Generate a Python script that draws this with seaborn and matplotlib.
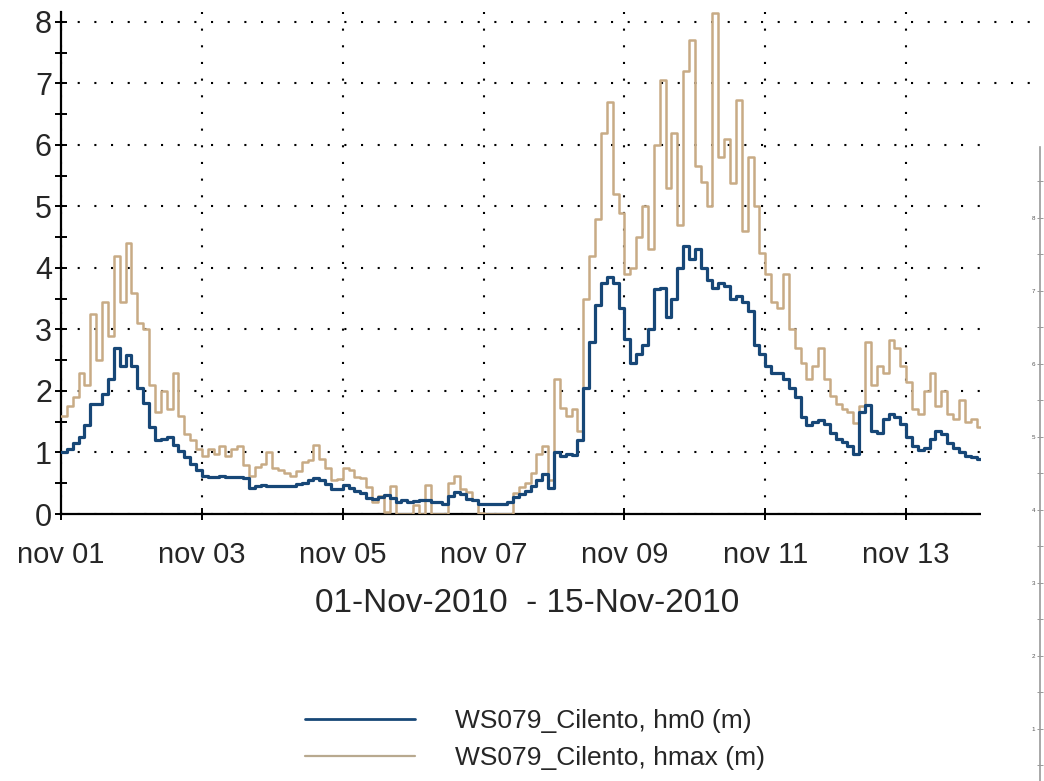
import matplotlib
matplotlib.use("Agg")
import numpy as np
import pandas as pd
import matplotlib.pyplot as plt
import matplotlib.dates as mdates
from matplotlib.ticker import MultipleLocator, FixedLocator, FuncFormatter
from matplotlib.patches import Rectangle
from matplotlib.lines import Line2D
import seaborn as sns

# ---- data: WS079 Cilento buoy, 2-hourly samples from 01-Nov-2010 00:00 ----
start_time = "2010-11-01 00:00"
sample_step = "2h"

hm0 = [
    1.00, 1.05, 1.15, 1.25, 1.45, 1.78, 1.78, 1.95, 2.20, 2.70, 2.40, 2.58,
    2.40, 2.05, 1.80, 1.42, 1.20, 1.22, 1.25, 1.12, 1.02, 0.92, 0.82, 0.72,
    0.62, 0.60, 0.60, 0.62, 0.60, 0.60, 0.60, 0.58, 0.43, 0.45, 0.47, 0.45,
    0.45, 0.45, 0.45, 0.46, 0.48, 0.50, 0.56, 0.58, 0.55, 0.48, 0.40, 0.40,
    0.47, 0.43, 0.37, 0.34, 0.26, 0.25, 0.28, 0.31, 0.26, 0.20, 0.22, 0.20,
    0.21, 0.23, 0.23, 0.20, 0.20, 0.17, 0.30, 0.36, 0.32, 0.25, 0.22, 0.17,
    0.16, 0.16, 0.16, 0.16, 0.20, 0.28, 0.32, 0.38, 0.45, 0.55, 0.65, 0.42,
    1.00, 0.95, 0.97, 0.96, 1.20, 2.05, 2.80, 3.40, 3.75, 3.85, 3.75, 3.35,
    2.85, 2.45, 2.60, 2.75, 3.00, 3.65, 3.68, 3.20, 3.50, 4.00, 4.35, 4.15,
    4.30, 4.00, 3.80, 3.68, 3.75, 3.70, 3.50, 3.55, 3.45, 3.30, 2.75, 2.60,
    2.40, 2.30, 2.30, 2.20, 2.05, 1.90, 1.58, 1.45, 1.50, 1.52, 1.46, 1.32,
    1.22, 1.17, 1.10, 0.98, 1.65, 1.77, 1.35, 1.31, 1.55, 1.63, 1.58, 1.47,
    1.25, 1.10, 1.04, 1.08, 1.22, 1.35, 1.30, 1.15, 1.07, 1.00, 0.95, 0.93,
    0.90, 0.88, 0.87,
]

hmax = [
    1.60, 1.75, 1.90, 2.30, 2.10, 3.25, 2.50, 3.45, 2.90, 4.20, 3.45, 4.40,
    3.60, 3.10, 3.00, 2.10, 1.65, 2.00, 1.70, 2.30, 1.60, 1.30, 1.20, 1.05,
    0.95, 1.05, 0.98, 1.10, 0.95, 1.05, 1.10, 0.80, 0.62, 0.77, 0.82, 1.00,
    0.75, 0.72, 0.66, 0.62, 0.70, 0.85, 0.88, 1.12, 0.90, 0.75, 0.55, 0.57,
    0.75, 0.72, 0.60, 0.58, 0.44, 0.20, 0.30, 0.04, 0.45, 0.00, 0.00, 0.00,
    0.15, 0.00, 0.47, 0.00, 0.00, 0.00, 0.50, 0.62, 0.40, 0.35, 0.23, 0.02,
    0.00, 0.00, 0.00, 0.00, 0.00, 0.34, 0.44, 0.50, 0.66, 0.98, 1.10, 0.55,
    2.20, 1.72, 1.60, 1.70, 1.35, 3.50, 4.20, 4.80, 6.20, 6.70, 5.20, 4.90,
    3.90, 4.00, 4.50, 5.00, 4.30, 6.00, 7.05, 5.30, 6.20, 4.70, 7.20, 7.70,
    5.65, 5.40, 5.00, 8.14, 5.80, 6.10, 5.38, 6.73, 4.60, 5.80, 5.00, 4.24,
    3.90, 3.45, 3.35, 3.90, 3.00, 2.70, 2.45, 2.20, 2.40, 2.70, 2.20, 1.92,
    1.78, 1.70, 1.65, 1.48, 1.75, 2.80, 2.10, 2.40, 2.30, 2.83, 2.70, 2.40,
    2.15, 1.70, 1.62, 2.00, 2.29, 1.75, 2.00, 1.62, 1.55, 1.85, 1.50, 1.55,
    1.42, 1.40, 1.38,
]

series_labels = ["WS079_Cilento, hm0 (m)", "WS079_Cilento, hmax (m)"]
period_label = "01-Nov-2010  - 15-Nov-2010"
x_start, x_end = "2010-11-01", "2010-11-15"
x_tick_days = [1, 3, 5, 7, 9, 11, 13]
y_ticks = [0, 1, 2, 3, 4, 5, 6, 7, 8]
side_ticks = [1, 2, 3, 4, 5, 6, 7, 8]

times = pd.date_range(start_time, periods=len(hm0), freq=sample_step)
df = pd.DataFrame({"time": times, "hm0": hm0, "hmax": hmax})

sns.set_theme(style="white")
plt.rcParams["font.family"] = ["Liberation Sans", "DejaVu Sans"]

BLUE = "#174777"
TAN = "#c8ab85"

W, H = 1044, 781
fig = plt.figure(figsize=(W / 100, H / 100), dpi=100, facecolor="white")


def fx(px):
    return px / W


def fy(py):
    return 1 - py / H


ax = fig.add_axes([fx(61), fy(514), fx(1047) - fx(61), fy(12) - fy(514)])
ax.set_facecolor("white")

sns.lineplot(data=df, x="time", y="hmax", ax=ax, color=TAN, linewidth=1.8,
             drawstyle="steps-post", zorder=3, legend=False)
sns.lineplot(data=df, x="time", y="hm0", ax=ax, color=BLUE, linewidth=2.3,
             drawstyle="steps-post", zorder=4, legend=False)

ax.set_xlim(pd.Timestamp(x_start), pd.Timestamp(x_end))
ax.set_ylim(0, 8.16)
ax.set_xlabel("")
ax.set_ylabel("")

ax.xaxis.set_major_locator(mdates.DayLocator(bymonthday=x_tick_days))
ax.xaxis.set_major_formatter(
    FuncFormatter(lambda v, pos: "nov %02d" % mdates.num2date(v).day))
ax.yaxis.set_major_locator(FixedLocator(y_ticks))
ax.yaxis.set_minor_locator(MultipleLocator(0.5))

for side in ("top", "right"):
    ax.spines[side].set_visible(False)
for side in ("left", "bottom"):
    ax.spines[side].set_color("black")
    ax.spines[side].set_linewidth(1.6)

ax.tick_params(axis="y", which="both", direction="inout", length=9, width=1.4,
               color="black", labelsize=22, pad=2, left=True)
ax.tick_params(axis="x", which="major", direction="inout", length=9, width=1.4,
               color="black", labelsize=21, pad=15, bottom=True)
ax.grid(True, which="major", color="black", linestyle=(0, (1, 7)), linewidth=1.5)

fig.text(fx(527), fy(604), period_label, ha="center", va="center", fontsize=24)

handles = [Line2D([], [], color=BLUE, linewidth=2.0),
           Line2D([], [], color="#b8a98f", linewidth=1.6)]
ax.legend(handles, series_labels, loc="upper left",
          bbox_to_anchor=(fx(305), fy(709)), bbox_transform=fig.transFigure,
          frameon=False, fontsize=19, borderpad=0, borderaxespad=0,
          handlelength=4.17, handletextpad=1.52, labelspacing=0.49)

# neighbouring window overlapping the right edge
fig.add_artist(Rectangle((fx(981), 0), fx(W) - fx(981), fy(100), transform=fig.transFigure,
                         facecolor="white", edgecolor="none", zorder=5))
side_ax = fig.add_axes([fx(1040), fy(802), 0.05, fy(147) - fy(802)])
side_ax.set_zorder(6)
side_ax.set_facecolor("white")
side_ax.set_ylim(0, 8.97)
side_ax.set_xticks([])
side_ax.yaxis.set_major_locator(FixedLocator(side_ticks))
side_ax.yaxis.set_minor_locator(MultipleLocator(0.5))
side_ax.tick_params(axis="y", which="both", direction="inout", length=5, width=0.6,
                    color="#888888", labelsize=4.5, labelcolor="#555555", pad=1, left=True)
for side in ("top", "right", "bottom"):
    side_ax.spines[side].set_visible(False)
side_ax.spines["left"].set_color("#9a9a9a")
side_ax.spines["left"].set_linewidth(1.2)

fig.savefig("out.png", dpi=100, facecolor="white")
